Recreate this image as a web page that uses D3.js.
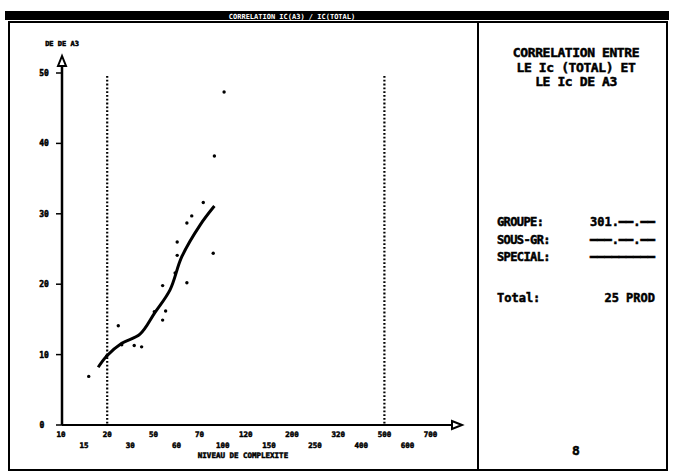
<!DOCTYPE html>
<html>
<head>
<meta charset="utf-8">
<script src="https://cdn.jsdelivr.net/npm/d3@7"></script>
<style>
  body { margin: 0; background: #fff; }
  text { font-family: "DejaVu Sans Mono", monospace; font-weight: bold; fill: #000; }
  .heavy { stroke: #000; stroke-width: 0.5px; }
</style>
</head>
<body>
<div id="chart"></div>
<script>
// x axis: position index -> printed label (two staggered rows)
const xLabels = ["10", "15", "20", "30", "50", "60", "70", "100", "120",
                 "150", "200", "250", "320", "400", "500", "600", "700"];
const yTicks = [0, 10, 20, 30, 40, 50];

// scatter points (x in label-index units, y = Ic de A3)
const pointX = [6.64, 7.06, 6.16, 5.66, 5.45, 5.03, 5.03, 6.59, 4.94, 4.40,
                5.45, 4.53, 4.04, 4.40, 2.48, 3.17, 3.49, 2.63, 1.98, 1.20];
const pointY = [38.2, 47.3, 31.6, 29.7, 28.7, 26.0, 24.1, 24.4, 21.6, 19.8,
                20.2, 16.2, 16.1, 14.9, 14.1, 11.3, 11.1, 11.4, 9.8, 6.9];

// fitted curve
const curveX = [1.61, 1.98, 2.63, 3.42, 4.07, 4.72, 5.23, 6.02, 6.64];
const curveY = [8.2, 9.8, 11.6, 12.9, 16.0, 19.2, 23.9, 28.4, 31.1];

// limit lines
const limits = [2, 14];

const width = 673, height = 476;

const svg = d3.select("#chart").append("svg")
  .attr("width", width)
  .attr("height", height);

// screen frame
svg.append("rect").attr("x", 5).attr("y", 11).attr("width", 664).attr("height", 9).attr("fill", "#000");
svg.append("text").attr("x", 292).attr("y", 18.5).attr("text-anchor", "middle")
   .style("font-size", "7px").style("fill", "#fff")
   .text("CORRELATION IC(A3) / IC(TOTAL)");
svg.append("rect").attr("x", 9).attr("y", 22).attr("width", 658).attr("height", 448)
   .attr("fill", "none").attr("stroke", "#000").attr("stroke-width", 2);
svg.append("line").attr("x1", 478).attr("x2", 478).attr("y1", 22).attr("y2", 470)
   .attr("stroke", "#000").attr("stroke-width", 2);

const x = d3.scaleLinear().domain([0, 16]).range([61, 430.6]);
const y = d3.scaleLinear().domain([0, 50]).range([425, 73]);

// axes
const g = svg.append("g");
g.append("line").attr("x1", 62).attr("x2", 62).attr("y1", 425).attr("y2", 60)
 .attr("stroke", "#000").attr("stroke-width", 2.5);
g.append("line").attr("x1", 62).attr("x2", 452).attr("y1", 425).attr("y2", 425)
 .attr("stroke", "#000").attr("stroke-width", 2);
// arrow heads (open)
g.append("path").attr("d", "M62,56 L58,66 L66,66 Z").attr("fill", "#fff").attr("stroke", "#000").attr("stroke-width", 2);
g.append("path").attr("d", "M462,425 L452,421 L452,429 Z").attr("fill", "#fff").attr("stroke", "#000").attr("stroke-width", 2);

// y ticks
const yt = g.selectAll(".yt").data(yTicks).enter().append("g");
yt.append("line").attr("x1", 56).attr("x2", 62)
  .attr("y1", d => y(d)).attr("y2", d => y(d))
  .attr("stroke", "#000").attr("stroke-width", 1.5);
yt.append("text").attr("class", "heavy").attr("x", d => d === 0 ? 42 : 44).attr("y", d => y(d) + 3)
  .attr("text-anchor", "middle").style("font-size", "8px")
  .text(d => d === 0 ? "0" : d);
svg.append("text").attr("class", "heavy").attr("x", 62).attr("y", 46).attr("text-anchor", "middle")
   .style("font-size", "7px").text("DE DE A3");

// x tick labels, staggered
svg.selectAll(".xl").data(xLabels).enter().append("text")
   .attr("class", "heavy")
   .attr("x", (d, i) => x(i))
   .attr("y", (d, i) => i % 2 === 0 ? 437 : 448)
   .attr("text-anchor", "middle").style("font-size", "7.5px")
   .text(d => d);
svg.append("text").attr("class", "heavy").attr("x", 243).attr("y", 458).attr("text-anchor", "middle")
   .style("font-size", "7.5px").text("NIVEAU DE COMPLEXITE");

// dotted limit lines
svg.selectAll(".lim").data(limits).enter().append("line")
   .attr("x1", d => x(d)).attr("x2", d => x(d))
   .attr("y1", 76).attr("y2", 425)
   .attr("stroke", "#000").attr("stroke-width", 2.2)
   .attr("stroke-dasharray", "1.8,2");

// fitted curve
const line = d3.line().x(d => x(d[0])).y(d => y(d[1])).curve(d3.curveCatmullRom);
svg.append("path").datum(d3.zip(curveX, curveY))
   .attr("d", line).attr("fill", "none").attr("stroke", "#000").attr("stroke-width", 3);

// points
svg.selectAll(".pt").data(d3.zip(pointX, pointY)).enter().append("circle")
   .attr("cx", d => x(d[0])).attr("cy", d => y(d[1])).attr("r", 1.7).attr("fill", "#000");

// side panel
const title = ["CORRELATION ENTRE", "LE Ic (TOTAL) ET", "LE Ic DE A3"];
svg.selectAll(".tt").data(title).enter().append("text")
   .attr("class", "heavy")
   .attr("x", 576).attr("y", (d, i) => 57 + i * 14.5)
   .attr("text-anchor", "middle").style("font-size", "13px")
   .style("letter-spacing", "-0.4px")
   .text(d => d);

const infoLabels = ["GROUPE:", "SOUS-GR:", "SPECIAL:"];
const infoValues = ["301.\u2501\u2501.\u2501\u2501", "\u2501\u2501\u2501.\u2501\u2501.\u2501\u2501",
                    "\u2501\u2501\u2501\u2501\u2501\u2501\u2501\u2501\u2501"];
svg.selectAll(".il").data(infoLabels).enter().append("text")
   .attr("class", "heavy")
   .attr("x", 497).attr("y", (d, i) => 226 + i * 17.5)
   .style("font-size", "12px").style("letter-spacing", "-0.6px").text(d => d);
svg.selectAll(".iv").data(infoValues).enter().append("text")
   .attr("class", "heavy")
   .attr("x", 655).attr("y", (d, i) => 226 + i * 17.5)
   .attr("text-anchor", "end").style("font-size", "12px").text(d => d);
svg.append("text").attr("class", "heavy").attr("x", 497).attr("y", 302)
   .style("font-size", "12px").text("Total:");
svg.append("text").attr("class", "heavy").attr("x", 655).attr("y", 302).attr("text-anchor", "end")
   .style("font-size", "12px").text("25 PROD");
svg.append("text").attr("class", "heavy").attr("x", 576).attr("y", 455).attr("text-anchor", "middle")
   .style("font-size", "13px").text("8");
</script>
</body>
</html>
